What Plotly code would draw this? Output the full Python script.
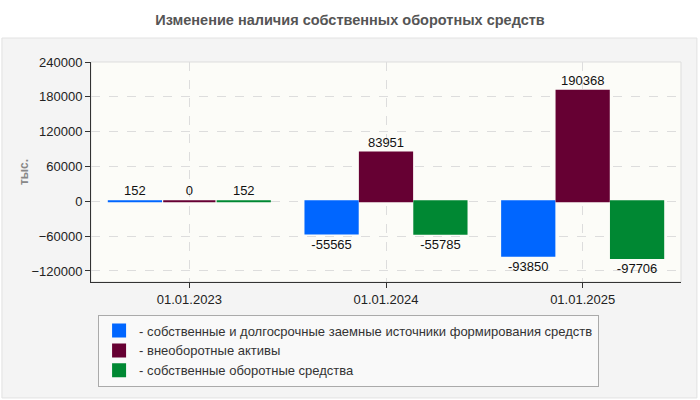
import plotly.graph_objects as go

# данные
dates = ["01.01.2023", "01.01.2024", "01.01.2025"]
series_names = [
    "- собственные и долгосрочные заемные источники формирования средств",
    "- внеоборотные активы",
    "- собственные оборотные средства",
]
own_and_longterm = [152, -55565, -93850]
noncurrent_assets = [0, 83951, 190368]
own_working_capital = [152, -55785, -97706]
y_ticks = [-120000, -60000, 0, 60000, 120000, 180000, 240000]

colors = ["#0066FF", "#660033", "#008833"]
values = [own_and_longterm, noncurrent_assets, own_working_capital]

fig = go.Figure()

for name, vals, col in zip(series_names, values, colors):
    fig.add_trace(go.Bar(
        x=dates,
        y=vals,
        name=name,
        marker=dict(color=col, line=dict(color=col, width=2)),
        text=[str(v) for v in vals],
        textposition="outside",
        textfont=dict(size=13, color="#111"),
        cliponaxis=False,
    ))

# светло-серая панель под графиком
fig.add_shape(type="rect", xref="paper", yref="paper",
              x0=-0.151, x1=1.027, y0=-0.527, y1=1.109,
              fillcolor="#f4f4f4", line=dict(color="#e2e2e2", width=1),
              layer="below")
# рамка области построения
fig.add_shape(type="rect", xref="paper", yref="paper",
              x0=0, x1=1, y0=0, y1=1,
              fillcolor="#fcfcf8", line=dict(color="#dddddd", width=1),
              layer="below")

fig.update_layout(
    width=700, height=400,
    margin=dict(l=91, r=19, t=62, b=118, autoexpand=False),
    paper_bgcolor="white",
    plot_bgcolor="rgba(0,0,0,0)",
    font=dict(family="Arial, Liberation Sans, sans-serif", size=13, color="#222"),
    title=dict(text="<b>Изменение наличия собственных оборотных средств</b>",
               x=0.5, xref="container", y=0.95, yref="container", yanchor="middle",
               font=dict(size=14.5, color="#555")),
    barmode="group",
    bargap=0.17,
    bargroupgap=0.04,
    showlegend=True,
    legend=dict(
        x=0.012, y=-0.148, xanchor="left", yanchor="top",
        bgcolor="#f9f9f9", bordercolor="#aaaaaa", borderwidth=1,
        font=dict(size=13, color="#333"),
        tracegroupgap=0, itemwidth=30,
    ),
    xaxis=dict(
        automargin=False,
        showgrid=True, gridcolor="#dddddd", griddash="dash",
        showline=True, linecolor="#333", linewidth=1,
        ticks="outside", ticklen=5, tickcolor="#333",
        tickfont=dict(size=13, color="#222"),
    ),
    yaxis=dict(
        automargin=False,
        range=[-139000, 240000],
        tickvals=y_ticks,
        tickformat="d",
        showgrid=True, gridcolor="#dddddd", griddash="dash",
        zeroline=False,
        showline=True, linecolor="#333", linewidth=1,
        ticks="outside", ticklen=5, tickcolor="#333",
        tickfont=dict(size=13, color="#222"),
        title=dict(text="<b>тыс.</b>", font=dict(size=12, color="#888"), standoff=0),
    ),
)

fig.write_html("out.html", config={"displayModeBar": False},
               post_script="document.body.style.margin='0';")
